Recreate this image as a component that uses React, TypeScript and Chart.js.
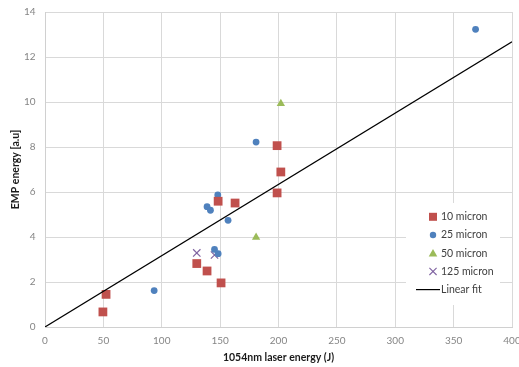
import React, { useEffect, useRef } from "react";
import { Chart, registerables } from "chart.js";
Chart.register(...registerables);

// ---- data ----
const micron10X = [49.6, 52.3, 130, 138.8, 150.8, 148.3, 162.8, 198.8, 198.8, 202];
const micron10Y = [0.67, 1.45, 2.82, 2.49, 1.96, 5.59, 5.51, 8.06, 5.96, 6.89];
const micron25X = [93.5, 138.8, 141.7, 145.2, 148.3, 148, 156.8, 180.8, 368.8];
const micron25Y = [1.62, 5.35, 5.19, 3.45, 3.26, 5.87, 4.74, 8.22, 13.23];
const micron50X = [180.8, 202];
const micron50Y = [3.99, 9.93];
const micron125X = [130, 145.2];
const micron125Y = [3.29, 3.2];
const fitX = [0, 400];
const fitY = [0, 12.68];
const seriesLabels = ["10 micron", "25 micron", "50 micron", "125 micron", "Linear fit"];
const xTitle = "1054nm laser energy (J)";
const yTitle = "EMP energy [a.u]";

const RED = "#C0504D";
const BLUE = "#4F81BD";
const GREEN = "#9BBB59";
const PURPLE = "#8064A2";
const FONT = "Lato, 'Liberation Sans', sans-serif";

const pts = (xs: number[], ys: number[]) => xs.map((x, i) => ({ x, y: ys[i] }));

const legendPlugin = {
  id: "boxLegend",
  afterDraw(chart: any) {
    const ctx = chart.ctx as CanvasRenderingContext2D;
    ctx.save();
    ctx.fillStyle = "#ffffff";
    ctx.fillRect(406, 203, 94, 102);
    const mx = 433;
    const tx = 441;
    const y0 = 216.8;
    const dy = 18.2;
    ctx.font = `10.5px ${FONT}`;
    ctx.textBaseline = "middle";
    ctx.textAlign = "left";
    seriesLabels.forEach((label, i) => {
      const y = y0 + i * dy;
      ctx.fillStyle = RED;
      ctx.strokeStyle = "#000";
      if (i === 0) {
        ctx.fillStyle = RED;
        ctx.fillRect(mx - 4, y - 4, 8, 8);
      } else if (i === 1) {
        ctx.fillStyle = BLUE;
        ctx.beginPath();
        ctx.arc(mx, y, 3.2, 0, Math.PI * 2);
        ctx.fill();
      } else if (i === 2) {
        ctx.fillStyle = GREEN;
        ctx.beginPath();
        ctx.moveTo(mx, y - 4.2);
        ctx.lineTo(mx + 4.3, y + 3.2);
        ctx.lineTo(mx - 4.3, y + 3.2);
        ctx.closePath();
        ctx.fill();
      } else if (i === 3) {
        ctx.strokeStyle = PURPLE;
        ctx.lineWidth = 1.1;
        ctx.beginPath();
        ctx.moveTo(mx - 3.6, y - 3.6);
        ctx.lineTo(mx + 3.6, y + 3.6);
        ctx.moveTo(mx + 3.6, y - 3.6);
        ctx.lineTo(mx - 3.6, y + 3.6);
        ctx.stroke();
      } else {
        ctx.strokeStyle = "#000";
        ctx.lineWidth = 1.2;
        ctx.beginPath();
        ctx.moveTo(416, y);
        ctx.lineTo(440, y);
        ctx.stroke();
      }
      ctx.fillStyle = "#404040";
      ctx.fillText(label, tx, y);
    });
    ctx.restore();
  },
};

export default function App() {
  const ref = useRef<HTMLCanvasElement>(null);
  useEffect(() => {
    document.body.style.margin = "0";
    const chart = new Chart(ref.current!, {
      type: "scatter",
      data: {
        datasets: [
          {
            label: seriesLabels[4],
            data: pts(fitX, fitY),
            showLine: true,
            borderColor: "#000000",
            borderWidth: 1.2,
            pointRadius: 0,
            fill: false,
          },
          {
            label: seriesLabels[0],
            data: pts(micron10X, micron10Y),
            pointStyle: "rect",
            pointRadius: 6.2,
            backgroundColor: RED,
            borderColor: RED,
            borderWidth: 0,
          },
          {
            label: seriesLabels[1],
            data: pts(micron25X, micron25Y),
            pointStyle: "circle",
            pointRadius: 3.4,
            backgroundColor: BLUE,
            borderColor: BLUE,
            borderWidth: 0,
          },
          {
            label: seriesLabels[2],
            data: pts(micron50X, micron50Y),
            pointStyle: "triangle",
            pointRadius: 4.8,
            backgroundColor: GREEN,
            borderColor: GREEN,
            borderWidth: 0,
          },
          {
            label: seriesLabels[3],
            data: pts(micron125X, micron125Y),
            pointStyle: "crossRot",
            pointRadius: 5.2,
            backgroundColor: PURPLE,
            borderColor: PURPLE,
            borderWidth: 1.2,
          },
        ],
      },
      options: {
        responsive: false,
        animation: false,
        devicePixelRatio: 1,
        layout: { padding: { top: 12, right: 7, left: 0, bottom: 0 } },
        plugins: {
          legend: { display: false },
          tooltip: { enabled: false },
        },
        scales: {
          x: {
            type: "linear",
            min: 0,
            max: 400,
            ticks: {
              stepSize: 50,
              padding: 8,
              color: "#858585",
              font: { family: FONT, size: 10 },
              maxRotation: 0,
            },
            grid: { color: "#d9d9d9", drawTicks: false, lineWidth: 1 },
            border: { display: true, color: "#d0d0d0" },
            title: {
              display: true,
              text: xTitle,
              color: "#1a1a1a",
              font: { family: FONT, size: 10.5, weight: "bold" },
              padding: { top: 0, bottom: 3.5 },
            },
            afterFit: (s: any) => {
              s.height = 40;
              s.paddingLeft = 0;
              s.paddingRight = 0;
            },
          },
          y: {
            type: "linear",
            min: 0,
            max: 14,
            ticks: {
              stepSize: 2,
              padding: 9.5,
              color: "#858585",
              font: { family: FONT, size: 10 },
            },
            grid: { color: "#d9d9d9", drawTicks: false, lineWidth: 1 },
            border: { display: true, color: "#d0d0d0" },
            title: {
              display: true,
              text: yTitle,
              color: "#1a1a1a",
              font: { family: FONT, size: 10.5, weight: "bold" },
              padding: { top: 9.5, bottom: 0 },
            },
            afterFit: (s: any) => {
              s.width = 45;
              s.paddingTop = 0;
              s.paddingBottom = 0;
            },
          },
        },
      },
      plugins: [legendPlugin],
    } as any);
    return () => chart.destroy();
  }, []);
  return (
    <div style={{ width: 519, height: 367 }}>
      <canvas ref={ref} width={519} height={367} style={{ display: "block" }} />
    </div>
  );
}
